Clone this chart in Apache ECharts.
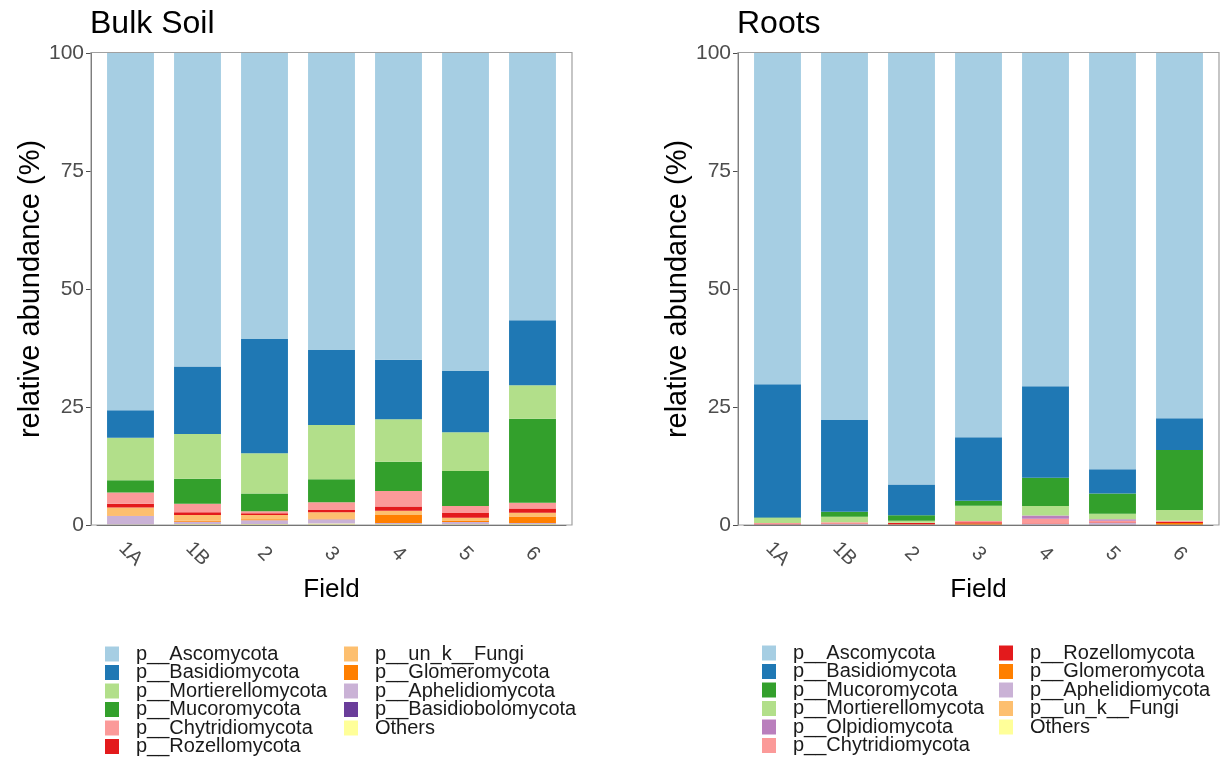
<!DOCTYPE html>
<html>
<head>
<meta charset="utf-8">
<script src="https://cdn.jsdelivr.net/npm/echarts@6/dist/echarts.min.js"></script>
<style>html,body{margin:0;padding:0;background:#fff;}#c{width:1221px;height:761px;}</style>
</head>
<body>
<div id="c"></div>
<script>
// ---------- data ----------
const fields = ['1A', '1B', '2', '3', '4', '5', '6'];
const yTicks = [0, 25, 50, 75, 100];

// Bulk soil (bottom -> top stacking order)
const bulkNames = ['Others', 'p__Basidiobolomycota', 'p__Aphelidiomycota', 'p__Glomeromycota', 'p__un_k__Fungi',
  'p__Rozellomycota', 'p__Chytridiomycota', 'p__Mucoromycota', 'p__Mortierellomycota', 'p__Basidiomycota', 'p__Ascomycota'];
const bulkOthers      = [0.1, 0.2, 0.2, 0.3, 0.2, 0.15, 0.2];
const bulkBasidiobolo = [0, 0, 0, 0, 0, 0, 0];
const bulkAphelidio   = [1.8, 0.5, 0.8, 0.9, 0.2, 0.5, 0.2];
const bulkGlomero     = [0.1, 0.2, 0.2, 0.2, 1.7, 0.3, 1.4];
const bulkUnk         = [1.7, 1.2, 0.9, 1.3, 0.9, 0.6, 0.8];
const bulkRozello     = [0.8, 0.6, 0.4, 0.5, 0.9, 1.0, 0.9];
const bulkChytrid     = [2.4, 1.8, 0.4, 1.6, 3.3, 1.5, 1.2];
const bulkMucoro      = [2.6, 5.3, 3.8, 4.9, 6.2, 7.4, 17.8];
const bulkMortierello = [9.0, 9.5, 8.5, 11.5, 9.0, 8.2, 7.1];
const bulkBasidio     = [5.8, 14.3, 24.2, 15.9, 12.6, 13.0, 13.8];
const bulkAsco        = [75.7, 66.4, 60.6, 62.9, 65.0, 67.35, 56.6];
const bulkValues = [bulkOthers, bulkBasidiobolo, bulkAphelidio, bulkGlomero, bulkUnk, bulkRozello,
  bulkChytrid, bulkMucoro, bulkMortierello, bulkBasidio, bulkAsco];

// Roots (bottom -> top stacking order)
const rootNames = ['Others', 'p__un_k__Fungi', 'p__Aphelidiomycota', 'p__Glomeromycota', 'p__Rozellomycota',
  'p__Chytridiomycota', 'p__Olpidiomycota', 'p__Mortierellomycota', 'p__Mucoromycota', 'p__Basidiomycota', 'p__Ascomycota'];
const rootOthers      = [0, 0, 0, 0, 0, 0, 0];
const rootUnk         = [0, 0, 0, 0, 0, 0, 0];
const rootAphelidio   = [0.1, 0.2, 0, 0, 0.2, 0.5, 0];
const rootGlomero     = [0, 0, 0.1, 0.3, 0, 0, 0.4];
const rootRozello     = [0.1, 0.1, 0.3, 0.3, 0.1, 0.1, 0.3];
const rootChytrid     = [0.2, 0.3, 0.1, 0.25, 1.0, 0.3, 0.2];
const rootOlpidio     = [0, 0, 0, 0, 0.7, 0.3, 0];
const rootMortierello = [1.1, 1.15, 0.4, 3.25, 2.0, 1.2, 2.3];
const rootMucoro      = [0.1, 1.05, 1.15, 1.05, 6.0, 4.3, 12.7];
const rootBasidio     = [28.2, 19.45, 6.55, 13.45, 19.4, 5.1, 6.7];
const rootAsco        = [70.2, 77.75, 91.4, 81.4, 70.6, 88.2, 77.4];
const rootValues = [rootOthers, rootUnk, rootAphelidio, rootGlomero, rootRozello, rootChytrid,
  rootOlpidio, rootMortierello, rootMucoro, rootBasidio, rootAsco];

const colors = {
  'p__Ascomycota': '#A6CEE3', 'p__Basidiomycota': '#1F78B4', 'p__Mortierellomycota': '#B2DF8A',
  'p__Mucoromycota': '#33A02C', 'p__Chytridiomycota': '#FB9A99', 'p__Rozellomycota': '#E31A1C',
  'p__un_k__Fungi': '#FDBF6F', 'p__Glomeromycota': '#FF7F00', 'p__Aphelidiomycota': '#CAB2D6',
  'p__Basidiobolomycota': '#6A3D9A', 'p__Olpidiomycota': '#BA7FBD', 'Others': '#FFFF99'
};

// legend order (top to bottom, column-wise)
const bulkLegend1 = ['p__Ascomycota', 'p__Basidiomycota', 'p__Mortierellomycota', 'p__Mucoromycota', 'p__Chytridiomycota', 'p__Rozellomycota'];
const bulkLegend2 = ['p__un_k__Fungi', 'p__Glomeromycota', 'p__Aphelidiomycota', 'p__Basidiobolomycota', 'Others'];
const rootLegend1 = ['p__Ascomycota', 'p__Basidiomycota', 'p__Mucoromycota', 'p__Mortierellomycota', 'p__Olpidiomycota', 'p__Chytridiomycota'];
const rootLegend2 = ['p__Rozellomycota', 'p__Glomeromycota', 'p__Aphelidiomycota', 'p__un_k__Fungi', 'Others'];

// ---------- chart ----------
const FONT = 'Liberation Sans, Arial, Helvetica, sans-serif';
const chart = echarts.init(document.getElementById('c'), null, {renderer: 'canvas'});

const panels = [
  {title: 'Bulk Soil', left: 97, frameLeft: 91},
  {title: 'Roots', left: 744, frameLeft: 738}
];
const GW = 469, GTOP = 53, GH = 472;

function xAxisDef(i) {
  return {
    type: 'category', gridIndex: i, data: fields,
    name: 'Field', nameLocation: 'middle', nameGap: 52,
    nameTextStyle: {fontSize: 26, color: '#000', fontFamily: FONT},
    axisLine: {lineStyle: {color: '#4d4d4d', width: 1}},
    axisTick: {alignWithLabel: true, length: 5, lineStyle: {color: '#4d4d4d'}},
    axisLabel: {rotate: -45, fontSize: 20, color: '#4d4d4d', fontFamily: FONT, margin: 29,
      align: 'center', verticalAlign: 'middle'}
  };
}
function yAxisDef(i) {
  return {
    type: 'value', gridIndex: i, min: 0, max: 100, interval: 25, offset: 6,
    name: 'relative abundance (%)', nameLocation: 'middle', nameGap: 45,
    nameTextStyle: {fontSize: 29, color: '#000', fontFamily: FONT},
    axisLine: {show: true, lineStyle: {color: '#4d4d4d', width: 1}},
    axisTick: {show: true, length: 5, lineStyle: {color: '#4d4d4d'}},
    axisLabel: {fontSize: 21, color: '#4d4d4d', fontFamily: FONT, margin: 7,
      formatter: v => yTicks.includes(v) ? String(v) : ''},
    splitLine: {show: false}
  };
}

const series = [];
function addSeries(names, values, idx, stack) {
  names.forEach((n, k) => {
    series.push({
      name: n, type: 'bar', xAxisIndex: idx, yAxisIndex: idx, stack: stack,
      barWidth: '70%', data: values[k],
      itemStyle: {color: colors[n]}, emphasis: {disabled: true},
      animation: false
    });
  });
}
addSeries(bulkNames, bulkValues, 0, 'bulk');
addSeries(rootNames, rootValues, 1, 'roots');

function legendDef(data, left, top) {
  return {
    data: data, orient: 'vertical', left: left, top: top, height: 140, padding: 0,
    icon: 'rect', itemWidth: 14, itemHeight: 15, itemGap: -1.5,
    selectedMode: false,
    textStyle: {fontSize: 20, color: '#1a1a1a', fontFamily: FONT, padding: [0, 0, 0, 12]}
  };
}

const option = {
  backgroundColor: '#fff',
  animation: false,
  title: panels.map(p => ({
    text: p.title, left: p.frameLeft - 6, top: 3,
    textStyle: {fontSize: 32, fontWeight: 'normal', color: '#000', fontFamily: FONT}
  })),
  grid: panels.map(p => ({left: p.left, top: GTOP, width: GW, height: GH})),
  xAxis: [xAxisDef(0), xAxisDef(1)],
  yAxis: [yAxisDef(0), yAxisDef(1)],
  legend: [
    legendDef(bulkLegend1, 105, 644), legendDef(bulkLegend2, 344, 644),
    legendDef(rootLegend1, 762, 643), legendDef(rootLegend2, 999, 643)
  ],
  graphic: panels.map(p => ({
    type: 'rect', silent: true, z: 100,
    shape: {x: p.frameLeft, y: GTOP - 0.5, width: GW + 12, height: GH + 0.5},
    style: {fill: 'none', stroke: '#a0a0a0', lineWidth: 1.2}
  })),
  series: series
};
chart.setOption(option);
</script>
</body>
</html>
